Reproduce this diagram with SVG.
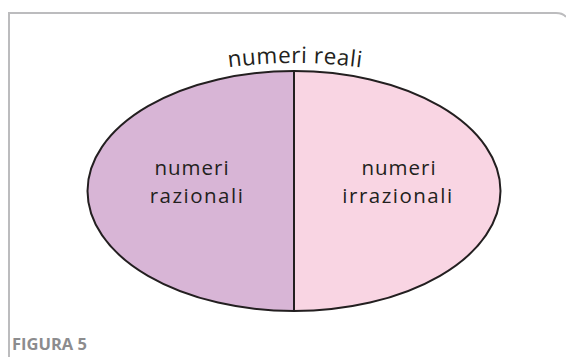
<svg xmlns="http://www.w3.org/2000/svg" width="566" height="357" viewBox="0 0 566 357">
<style>
.lbl{font-family:"Open Sans","Noto Sans",sans-serif;font-size:20.5px;fill:#231f20;text-anchor:middle}
.frame{fill:none;stroke:#bcbcbe;stroke-width:2}
.edge{stroke:#231f20;stroke-width:2;fill:none}
</style>
<defs>
<clipPath id="cl"><rect x="0" y="0" width="294" height="357"/></clipPath>
<clipPath id="cr"><rect x="294" y="0" width="272" height="357"/></clipPath>
<path id="arc" d="M190,74 Q295,52 400,74"/>
</defs>
<g id="frame">
<path class="frame" d="M9,357 Q9,352 9,348 L9,13 L556,13 Q563,13 566,17"/>
</g>
<g id="rationals">
<ellipse cx="294" cy="191" rx="206.5" ry="120" fill="#d8b5d6" clip-path="url(#cl)"/>
<text class="lbl" x="192" y="175" letter-spacing="1">numeri</text>
<text class="lbl" x="197" y="203" letter-spacing="1.5">razionali</text>
</g>
<g id="irrationals">
<ellipse cx="294" cy="191" rx="206.5" ry="120" fill="#f9d5e3" clip-path="url(#cr)"/>
<text class="lbl" x="399" y="175" letter-spacing="1">numeri</text>
<text class="lbl" x="398" y="203" letter-spacing="1.5">irrazionali</text>
</g>
<g id="reals">
<ellipse class="edge" cx="294" cy="191" rx="206.5" ry="120"/>
<text class="lbl" style="font-size:22.5px" letter-spacing="0.5"><textPath href="#arc" startOffset="50%">numeri reali</textPath></text>
</g>
<g id="connectors">
<line class="edge" x1="294" y1="71" x2="294" y2="311"/>
</g>
<text x="12" y="350" font-family="'Open Sans','Noto Sans',sans-serif" font-weight="bold" font-size="16.5" fill="#8c8c8e">FIGURA 5</text>
</svg>
